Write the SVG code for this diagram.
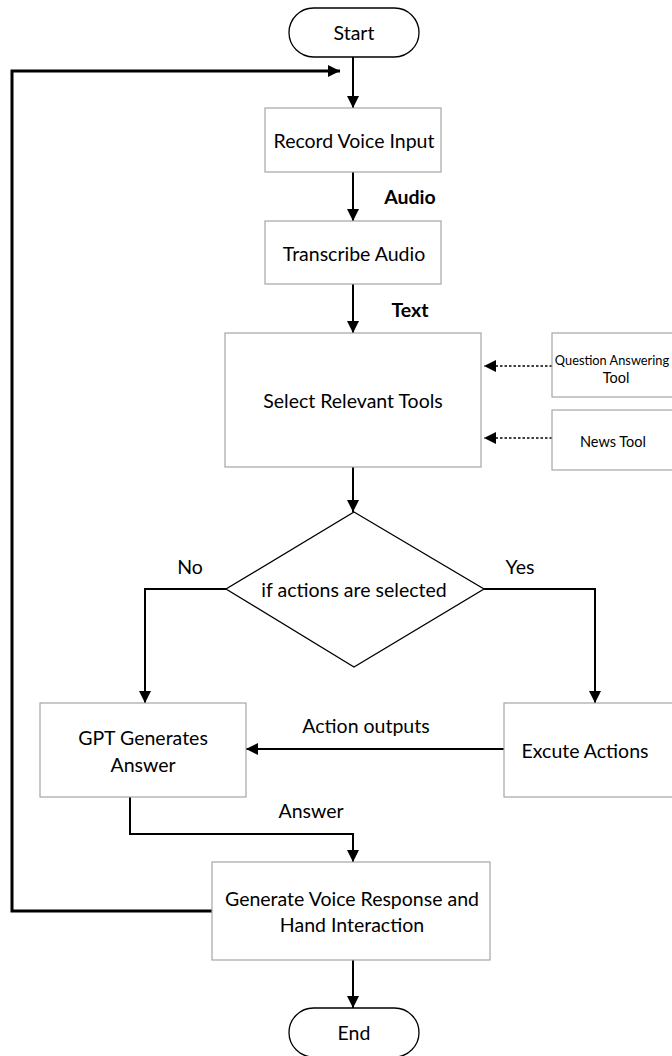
<svg xmlns="http://www.w3.org/2000/svg" width="672" height="1056" viewBox="0 0 672 1056">
<defs>
<marker id="ahs" viewBox="0 0 10 10" refX="10" refY="5" markerWidth="12" markerHeight="12" orient="auto" markerUnits="userSpaceOnUse">
<path d="M0,0 L10,5 L0,10 z" fill="#000"/>
</marker>
</defs>
<style>
text{font-family:Lato,"Liberation Sans",sans-serif;font-size:19.5px;fill:#000;text-anchor:middle;dominant-baseline:central}
.box{fill:#fff;stroke:#a6a6a6;stroke-width:1.2}
.term{fill:#fff;stroke:#000;stroke-width:1.3}
.c{fill:none;stroke:#000;stroke-width:2}
.loop{fill:none;stroke:#000;stroke-width:3}
.d{fill:none;stroke:#000;stroke-width:1.5;stroke-dasharray:2.5 2}
.b{font-weight:bold}
.s{font-size:14.5px}
.q{font-size:12.8px}
</style>
<rect width="672" height="1056" fill="#fff"/>
<g id="connectors">
<path class="loop" d="M212,911 H12 V71 H340" marker-end="url(#ahs)"/>
<path class="c" d="M353,57 V108" marker-end="url(#ahs)"/>
<path class="c" d="M353,172 V221" marker-end="url(#ahs)"/>
<path class="c" d="M353,284 V333" marker-end="url(#ahs)"/>
<path class="c" d="M353,467 V512" marker-end="url(#ahs)"/>
<path class="d" d="M552,366 H484" marker-end="url(#ahs)"/>
<path class="d" d="M552,438 H484" marker-end="url(#ahs)"/>
<path class="c" d="M226,589 H145 V703" marker-end="url(#ahs)"/>
<path class="c" d="M484,589 H595 V703" marker-end="url(#ahs)"/>
<path class="c" d="M504,749 H246" marker-end="url(#ahs)"/>
<path class="c" d="M130,797 V834 H353 V862" marker-end="url(#ahs)"/>
<path class="c" d="M353,960 V1008" marker-end="url(#ahs)"/>
<text x="410" y="196" class="b">Audio</text>
<text x="410" y="309" class="b">Text</text>
<text x="190" y="566">No</text>
<text x="520" y="566">Yes</text>
<text x="366" y="725">Action outputs</text>
<text x="311" y="810">Answer</text>
</g>
<g id="start">
<rect class="term" x="289" y="8" width="130" height="49" rx="24.5"/>
<text x="354" y="32">Start</text>
</g>
<g id="record">
<rect class="box" x="265" y="108" width="176" height="64"/>
<text x="354" y="140">Record Voice Input</text>
</g>
<g id="transcribe">
<rect class="box" x="265" y="221" width="176" height="63"/>
<text x="354" y="253">Transcribe Audio</text>
</g>
<g id="select">
<rect class="box" x="225" y="333" width="256" height="134"/>
<text x="353" y="400">Select Relevant Tools</text>
</g>
<g id="qa">
<rect class="box" x="552" y="333" width="130" height="64"/>
<text x="612" y="360" class="q">Question Answering</text>
<text x="616" y="377" class="s">Tool</text>
</g>
<g id="news">
<rect class="box" x="552" y="410" width="130" height="60"/>
<text x="613" y="441" class="s">News Tool</text>
</g>
<g id="decision">
<polygon class="term" points="354,512 484,589 354,667 226,589"/>
<text x="354" y="589">if actions are selected</text>
</g>
<g id="gpt">
<rect class="box" x="40" y="703" width="206" height="94"/>
<text x="143" y="737">GPT Generates</text>
<text x="143" y="764">Answer</text>
</g>
<g id="execute">
<rect class="box" x="504" y="703" width="180" height="94"/>
<text x="585" y="750">Excute Actions</text>
</g>
<g id="generate">
<rect class="box" x="212" y="862" width="278" height="98"/>
<text x="352" y="898">Generate Voice Response and</text>
<text x="352" y="924">Hand Interaction</text>
</g>
<g id="end">
<rect class="term" x="289" y="1008" width="130" height="49" rx="24.5"/>
<text x="354" y="1032">End</text>
</g>
</svg>
